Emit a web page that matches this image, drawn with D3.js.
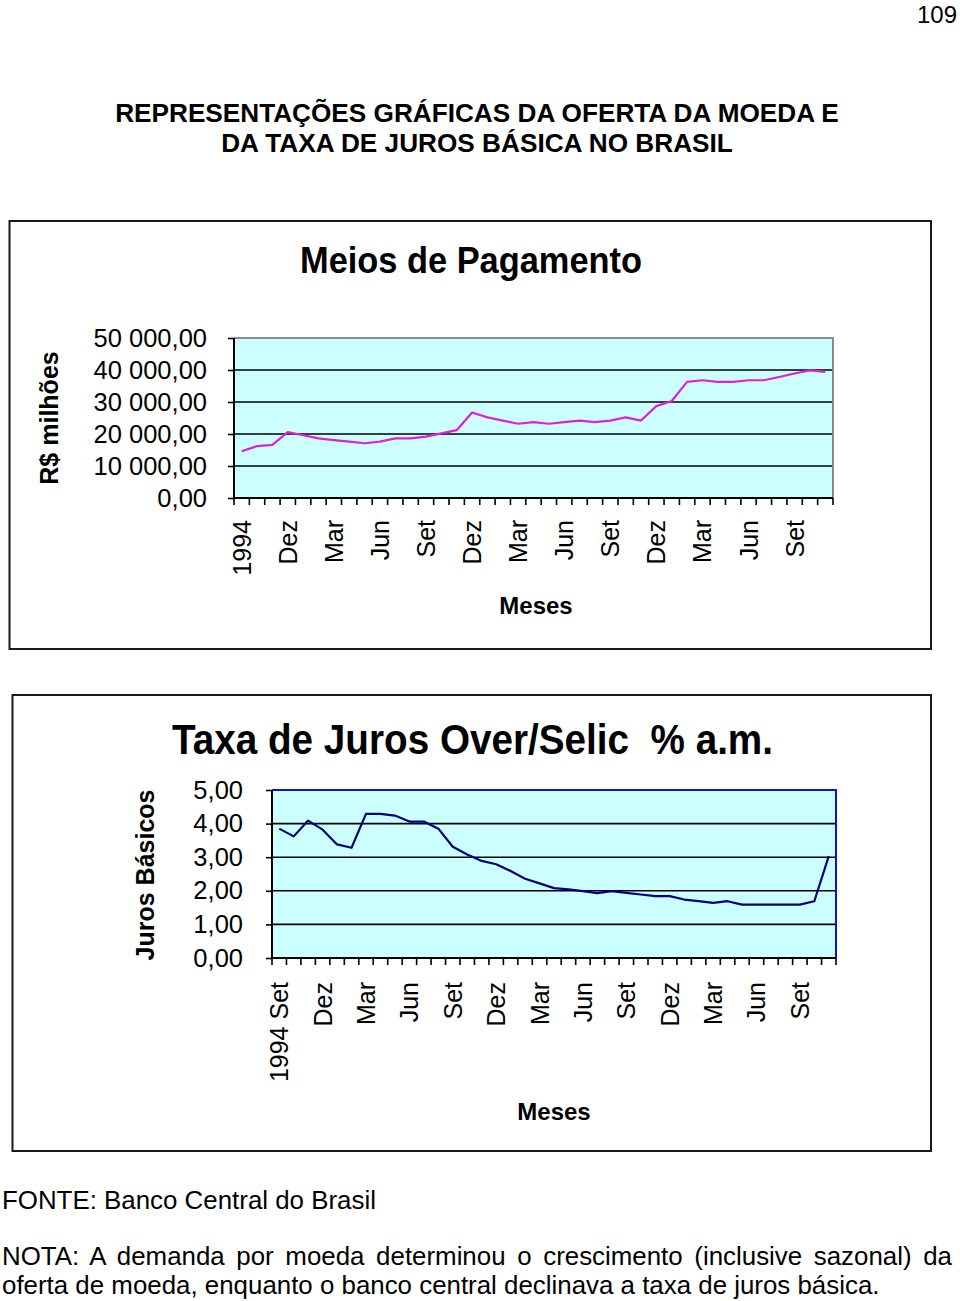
<!DOCTYPE html>
<html><head><meta charset="utf-8">
<script src="https://cdn.jsdelivr.net/npm/d3@7"></script>
<style>
body{margin:0;background:#fff}
svg{display:block}
text{font-family:"Liberation Sans",Arial,Helvetica,sans-serif;fill:#000}
</style></head>
<body>
<svg id="c" width="960" height="1301"></svg>
<script>
// ---------- DATA ----------
const months = [
 "Set/94","Out/94","Nov/94","Dez/94",
 "Jan/95","Fev/95","Mar/95","Abr/95","Mai/95","Jun/95","Jul/95","Ago/95","Set/95","Out/95","Nov/95","Dez/95",
 "Jan/96","Fev/96","Mar/96","Abr/96","Mai/96","Jun/96","Jul/96","Ago/96","Set/96","Out/96","Nov/96","Dez/96",
 "Jan/97","Fev/97","Mar/97","Abr/97","Mai/97","Jun/97","Jul/97","Ago/97","Set/97","Out/97","Nov/97"
];
// Meios de Pagamento (R$ milhões)
const meiosPagamento = [
 14600,16200,16600,20600,19600,18650,18100,17600,17100,17600,18650,18650,19200,20200,21200,26700,
 25200,24200,23200,23700,23200,23700,24200,23700,24200,25200,24200,28700,30300,36300,36800,36300,
 36300,36800,36800,37800,38900,39900,39400
];
// Taxa de Juros Over/Selic (% a.m.)
const jurosSelic = [
 3.85,3.62,4.09,3.82,3.38,3.28,4.29,4.29,4.24,4.06,4.06,3.85,3.31,3.08,2.89,2.79,
 2.59,2.36,2.22,2.08,2.04,1.99,1.93,1.99,1.94,1.89,1.84,1.84,1.74,1.69,1.64,1.69,
 1.59,1.59,1.59,1.59,1.59,1.69,3.03
];
const yTicksTop = [0,10000,20000,30000,40000,50000];
const yTicksBottom = [0,1,2,3,4,5];
const xLabelsTop = ["1994","Dez","Mar","Jun","Set","Dez","Mar","Jun","Set","Dez","Mar","Jun","Set"];
const xLabelsBottom = ["1994 Set","Dez","Mar","Jun","Set","Dez","Mar","Jun","Set","Dez","Mar","Jun","Set"];

// ---------- DRAW ----------
const svg = d3.select("#c");
const loc = d3.formatLocale({decimal:",", thousands:" ", grouping:[3], currency:["R$",""]});
const fmtTop = loc.format(",.2f");
const fmtBot = loc.format(".2f");

function fitWidth(t, w){
  const L = t.node().getComputedTextLength();
  const fs = parseFloat(t.attr("font-size"));
  t.attr("font-size", fs*w/L);
}

// page number
svg.append("text").attr("x",957).attr("y",23).attr("text-anchor","end").attr("font-size",24).text("109");

// main title
const t1 = svg.append("text").attr("x",477).attr("y",122).attr("text-anchor","middle").attr("font-weight","bold").attr("font-size",25)
  .text("REPRESENTAÇÕES GRÁFICAS DA OFERTA DA MOEDA E");
fitWidth(t1, 724);
const t2 = svg.append("text").attr("x",477).attr("y",152).attr("text-anchor","middle").attr("font-weight","bold").attr("font-size",25)
  .text("DA TAXA DE JUROS BÁSICA NO BRASIL");
fitWidth(t2, 512);

function chart(cfg){
  const g = svg.append("g");
  // outer box
  g.append("rect").attr("x",cfg.box[0]).attr("y",cfg.box[1]).attr("width",cfg.box[2]).attr("height",cfg.box[3])
    .attr("fill","none").attr("stroke","#1a1a1a").attr("stroke-width",2);
  // title
  g.append("text").attr("x",cfg.titleX).attr("y",cfg.titleY).attr("font-weight","bold")
    .attr("font-family","'Liberation Sans Narrow','Liberation Sans',Arial,sans-serif")
    .attr("font-size",cfg.titleSize).attr("textLength",cfg.titleW).attr("lengthAdjust","spacingAndGlyphs")
    .style("white-space","pre").text(cfg.title);

  const p = cfg.plot; // [x0,y0,x1,y1]
  const x = d3.scaleBand().domain(months).range([p[0],p[2]]).padding(0);
  const y = d3.scaleLinear().domain(cfg.yDomain).range([p[3],p[1]]);

  g.append("rect").attr("x",p[0]).attr("y",p[1]).attr("width",p[2]-p[0]).attr("height",p[3]-p[1]).attr("fill","#CCFFFF");

  // grid lines
  g.selectAll(null).data(cfg.yTicks.slice(1,-1)).join("line")
    .attr("x1",p[0]).attr("x2",p[2]).attr("y1",d=>y(d)).attr("y2",d=>y(d))
    .attr("stroke","#000").attr("stroke-width",1.6);
  // top & right border
  g.append("path").attr("d",`M${p[0]},${y(cfg.yDomain[1])}H${p[2]}V${p[3]}`).attr("fill","none")
    .attr("stroke",cfg.borderColor).attr("stroke-width",cfg.borderW);

  // line
  g.append("path").datum(cfg.values)
    .attr("d", d3.line().x((d,i)=>x(months[i])+x.bandwidth()/2).y(d=>y(d)))
    .attr("fill","none").attr("stroke",cfg.lineColor).attr("stroke-width",2.2).attr("stroke-linejoin","round");

  // y axis
  const ya = g.append("g").attr("transform",`translate(${p[0]},0)`)
    .call(d3.axisLeft(y).tickValues(cfg.yTicks).tickFormat(cfg.fmt).tickSize(6).tickPadding(cfg.yPad));
  ya.select(".domain").attr("stroke","#000").attr("stroke-width",2).attr("d",`M0,${p[3]}V${p[1]}`);
  ya.selectAll(".tick line").attr("stroke","#000").attr("stroke-width",1.6);
  ya.selectAll(".tick text").attr("font-size",25.5).attr("font-family","'Liberation Sans',Arial,sans-serif").attr("fill","#000");

  // x axis baseline
  g.append("line").attr("x1",p[0]).attr("x2",p[2]).attr("y1",p[3]).attr("y2",p[3]).attr("stroke","#000").attr("stroke-width",2);
  // x tick marks at band boundaries
  const edges = d3.range(months.length+1).map(i => p[0] + i*x.step());
  g.selectAll(null).data(edges).join("line")
    .attr("x1",d=>d).attr("x2",d=>d).attr("y1",p[3]).attr("y2",p[3]+7)
    .attr("stroke","#000").attr("stroke-width",1.6);
  // x labels every 3 months
  const labIdx = cfg.xLabels.map((_,k)=>k*3);
  g.selectAll(null).data(labIdx).join("text")
    .attr("transform",i=>`translate(${x(months[i])+x.bandwidth()/2},${cfg.xLabY}) rotate(-90)`)
    .attr("dy","0.36em").attr("text-anchor","end").attr("font-size",25)
    .text((i,k)=>cfg.xLabels[k]);

  // axis titles
  g.append("text").attr("transform",`translate(${cfg.yTitle[0]},${cfg.yTitle[1]}) rotate(-90)`)
    .attr("text-anchor","middle").attr("font-weight","bold").attr("font-size",25).text(cfg.yTitleText);
  g.append("text").attr("x",cfg.xTitle[0]).attr("y",cfg.xTitle[1]).attr("text-anchor","middle")
    .attr("font-weight","bold").attr("font-size",24).text("Meses");
}

chart({
  box:[9.5,221,921.5,428],
  title:"Meios de Pagamento", titleX:300, titleY:273, titleSize:37, titleW:342,
  plot:[234,338,833,498], yDomain:[0,50000], yTicks:yTicksTop, fmt:fmtTop, yPad:21,
  values:meiosPagamento, lineColor:"#E01EE0", borderColor:"#8c8c8c", borderW:2,
  xLabels:xLabelsTop, xLabY:520,
  yTitle:[58,418], yTitleText:"R$ milhões", xTitle:[536,614]
});

chart({
  box:[12.5,695,918.5,456],
  title:"Taxa de Juros Over/Selic  % a.m.", titleX:172, titleY:754, titleSize:43, titleW:601,
  plot:[272,790,836,958], yDomain:[0,5], yTicks:yTicksBottom, fmt:fmtBot, yPad:23,
  values:jurosSelic, lineColor:"#000080", borderColor:"#1010c8", borderW:2,
  xLabels:xLabelsBottom, xLabY:982,
  yTitle:[154,875], yTitleText:"Juros Básicos", xTitle:[554,1120]
});

// footnotes
const f1 = svg.append("text").attr("x",2).attr("y",1209).attr("font-size",25).text("FONTE: Banco Central do Brasil");
fitWidth(f1, 374);
const n2 = svg.append("text").attr("x",2).attr("y",1294).attr("font-size",25)
  .text("oferta de moeda, enquanto o banco central declinava a taxa de juros básica.");
fitWidth(n2, 878);
const fsN = n2.attr("font-size");
const line1 = "NOTA: A demanda por moeda determinou o crescimento (inclusive sazonal) da";
const n1 = svg.append("text").attr("x",2).attr("y",1265).attr("font-size",fsN).text(line1);
const L1 = n1.node().getComputedTextLength();
const spaces = line1.split(" ").length-1;
n1.attr("word-spacing", (950-L1)/spaces);
</script>
</body></html>
